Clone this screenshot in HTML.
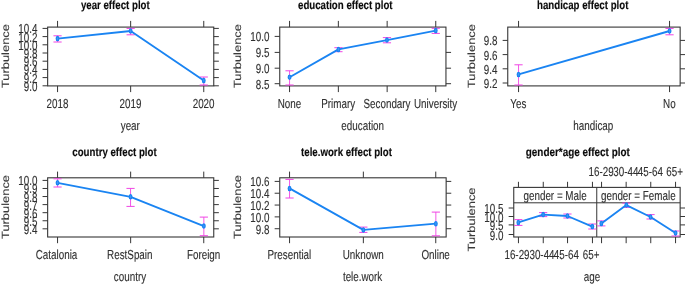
<!DOCTYPE html>
<html><head><meta charset="utf-8"><title>effect plots</title>
<style>
html,body{margin:0;padding:0;background:#fff;}
svg{display:block;filter:blur(0.35px);text-rendering:geometricPrecision;font-family:"Liberation Sans",sans-serif;}
</style></head><body>
<svg width="685" height="284" viewBox="0 0 685 284">
<rect width="685" height="284" fill="#fff"/>
<rect transform="translate(0.15,0.4)" x="47.50" y="26.70" width="166.10" height="58.80" fill="none" stroke="#363636" stroke-width="1.1"/>
<line x1="57.55" y1="20.90" x2="57.55" y2="27.10" stroke="#363636" stroke-width="1.0" />
<line x1="57.55" y1="85.90" x2="57.55" y2="92.10" stroke="#363636" stroke-width="1.0" />
<line x1="130.65" y1="20.90" x2="130.65" y2="27.10" stroke="#363636" stroke-width="1.0" />
<line x1="130.65" y1="85.90" x2="130.65" y2="92.10" stroke="#363636" stroke-width="1.0" />
<line x1="203.75" y1="20.90" x2="203.75" y2="27.10" stroke="#363636" stroke-width="1.0" />
<line x1="203.75" y1="85.90" x2="203.75" y2="92.10" stroke="#363636" stroke-width="1.0" />
<line x1="42.55" y1="28.40" x2="47.65" y2="28.40" stroke="#363636" stroke-width="1.0" />
<line x1="213.75" y1="28.40" x2="218.85" y2="28.40" stroke="#363636" stroke-width="1.0" />
<line x1="42.55" y1="36.60" x2="47.65" y2="36.60" stroke="#363636" stroke-width="1.0" />
<line x1="213.75" y1="36.60" x2="218.85" y2="36.60" stroke="#363636" stroke-width="1.0" />
<line x1="42.55" y1="44.80" x2="47.65" y2="44.80" stroke="#363636" stroke-width="1.0" />
<line x1="213.75" y1="44.80" x2="218.85" y2="44.80" stroke="#363636" stroke-width="1.0" />
<line x1="42.55" y1="53.00" x2="47.65" y2="53.00" stroke="#363636" stroke-width="1.0" />
<line x1="213.75" y1="53.00" x2="218.85" y2="53.00" stroke="#363636" stroke-width="1.0" />
<line x1="42.55" y1="61.20" x2="47.65" y2="61.20" stroke="#363636" stroke-width="1.0" />
<line x1="213.75" y1="61.20" x2="218.85" y2="61.20" stroke="#363636" stroke-width="1.0" />
<line x1="42.55" y1="69.40" x2="47.65" y2="69.40" stroke="#363636" stroke-width="1.0" />
<line x1="213.75" y1="69.40" x2="218.85" y2="69.40" stroke="#363636" stroke-width="1.0" />
<line x1="42.55" y1="77.60" x2="47.65" y2="77.60" stroke="#363636" stroke-width="1.0" />
<line x1="213.75" y1="77.60" x2="218.85" y2="77.60" stroke="#363636" stroke-width="1.0" />
<line x1="42.55" y1="85.80" x2="47.65" y2="85.80" stroke="#363636" stroke-width="1.0" />
<line x1="213.75" y1="85.80" x2="218.85" y2="85.80" stroke="#363636" stroke-width="1.0" />
<text transform="translate(57.40,108.40) scale(0.757,1)" text-anchor="middle" font-size="13.0" fill="#303030" stroke="#303030" stroke-width="0.12">2018</text>
<text transform="translate(130.50,108.40) scale(0.757,1)" text-anchor="middle" font-size="13.0" fill="#303030" stroke="#303030" stroke-width="0.12">2019</text>
<text transform="translate(203.60,108.40) scale(0.757,1)" text-anchor="middle" font-size="13.0" fill="#303030" stroke="#303030" stroke-width="0.12">2020</text>
<text transform="translate(37.40,33.40) scale(0.757,1)" text-anchor="end" font-size="13.0" fill="#303030" stroke="#303030" stroke-width="0.12">10.4</text>
<text transform="translate(37.40,41.60) scale(0.757,1)" text-anchor="end" font-size="13.0" fill="#303030" stroke="#303030" stroke-width="0.12">10.2</text>
<text transform="translate(37.40,49.80) scale(0.757,1)" text-anchor="end" font-size="13.0" fill="#303030" stroke="#303030" stroke-width="0.12">10.0</text>
<text transform="translate(37.40,58.00) scale(0.757,1)" text-anchor="end" font-size="13.0" fill="#303030" stroke="#303030" stroke-width="0.12">9.8</text>
<text transform="translate(37.40,66.20) scale(0.757,1)" text-anchor="end" font-size="13.0" fill="#303030" stroke="#303030" stroke-width="0.12">9.6</text>
<text transform="translate(37.40,74.40) scale(0.757,1)" text-anchor="end" font-size="13.0" fill="#303030" stroke="#303030" stroke-width="0.12">9.4</text>
<text transform="translate(37.40,82.60) scale(0.757,1)" text-anchor="end" font-size="13.0" fill="#303030" stroke="#303030" stroke-width="0.12">9.2</text>
<text transform="translate(37.40,90.80) scale(0.757,1)" text-anchor="end" font-size="13.0" fill="#303030" stroke="#303030" stroke-width="0.12">9.0</text>
<line x1="57.55" y1="35.80" x2="57.55" y2="42.00" stroke="#f044e4" stroke-width="0.9" />
<line x1="53.45" y1="35.80" x2="61.65" y2="35.80" stroke="#f044e4" stroke-width="1.0" />
<line x1="53.45" y1="42.00" x2="61.65" y2="42.00" stroke="#f044e4" stroke-width="1.0" />
<line x1="130.65" y1="28.40" x2="130.65" y2="34.80" stroke="#f044e4" stroke-width="0.9" />
<line x1="126.55" y1="28.40" x2="134.75" y2="28.40" stroke="#f044e4" stroke-width="1.0" />
<line x1="126.55" y1="34.80" x2="134.75" y2="34.80" stroke="#f044e4" stroke-width="1.0" />
<line x1="203.75" y1="77.00" x2="203.75" y2="85.00" stroke="#f044e4" stroke-width="0.9" />
<line x1="199.65" y1="77.00" x2="207.85" y2="77.00" stroke="#f044e4" stroke-width="1.0" />
<line x1="199.65" y1="85.00" x2="207.85" y2="85.00" stroke="#f044e4" stroke-width="1.0" />
<path transform="translate(0.15,0.4)" d="M57.40,38.20 L130.50,30.60 L203.60,80.00" fill="none" stroke="#1a84f2" stroke-width="1.85" stroke-linejoin="round"/>
<ellipse transform="translate(0.15,0.4)" cx="57.40" cy="38.20" rx="1.3" ry="2.1" fill="#3f97f5" stroke="#1a84f2" stroke-width="1.3"/>
<ellipse transform="translate(0.15,0.4)" cx="130.50" cy="30.60" rx="1.3" ry="2.1" fill="#3f97f5" stroke="#1a84f2" stroke-width="1.3"/>
<ellipse transform="translate(0.15,0.4)" cx="203.60" cy="80.00" rx="1.3" ry="2.1" fill="#3f97f5" stroke="#1a84f2" stroke-width="1.3"/>
<text transform="translate(115.30,9.40) scale(0.806,1)" text-anchor="middle" font-weight="bold" font-size="12" fill="#0c0c0c" stroke="#0c0c0c" stroke-width="0.15">year effect plot</text>
<text transform="translate(130.30,130.30) scale(0.757,1)" text-anchor="middle" font-size="13.0" fill="#303030" stroke="#303030" stroke-width="0.12">year</text>
<text transform="translate(8.60,56.10) scale(0.81,1) rotate(-90)" text-anchor="middle" font-size="12.9" fill="#3a3a3a" stroke="#3a3a3a" stroke-width="0.12">Turbulence</text>
<rect transform="translate(0.15,0.4)" x="279.60" y="26.70" width="166.20" height="58.80" fill="none" stroke="#363636" stroke-width="1.1"/>
<line x1="289.55" y1="20.90" x2="289.55" y2="27.10" stroke="#363636" stroke-width="1.0" />
<line x1="289.55" y1="85.90" x2="289.55" y2="92.10" stroke="#363636" stroke-width="1.0" />
<line x1="338.35" y1="20.90" x2="338.35" y2="27.10" stroke="#363636" stroke-width="1.0" />
<line x1="338.35" y1="85.90" x2="338.35" y2="92.10" stroke="#363636" stroke-width="1.0" />
<line x1="387.15" y1="20.90" x2="387.15" y2="27.10" stroke="#363636" stroke-width="1.0" />
<line x1="387.15" y1="85.90" x2="387.15" y2="92.10" stroke="#363636" stroke-width="1.0" />
<line x1="435.75" y1="20.90" x2="435.75" y2="27.10" stroke="#363636" stroke-width="1.0" />
<line x1="435.75" y1="85.90" x2="435.75" y2="92.10" stroke="#363636" stroke-width="1.0" />
<line x1="274.65" y1="36.40" x2="279.75" y2="36.40" stroke="#363636" stroke-width="1.0" />
<line x1="445.95" y1="36.40" x2="451.05" y2="36.40" stroke="#363636" stroke-width="1.0" />
<line x1="274.65" y1="52.40" x2="279.75" y2="52.40" stroke="#363636" stroke-width="1.0" />
<line x1="445.95" y1="52.40" x2="451.05" y2="52.40" stroke="#363636" stroke-width="1.0" />
<line x1="274.65" y1="68.20" x2="279.75" y2="68.20" stroke="#363636" stroke-width="1.0" />
<line x1="445.95" y1="68.20" x2="451.05" y2="68.20" stroke="#363636" stroke-width="1.0" />
<line x1="274.65" y1="83.70" x2="279.75" y2="83.70" stroke="#363636" stroke-width="1.0" />
<line x1="445.95" y1="83.70" x2="451.05" y2="83.70" stroke="#363636" stroke-width="1.0" />
<text transform="translate(289.40,108.40) scale(0.757,1)" text-anchor="middle" font-size="13.0" fill="#303030" stroke="#303030" stroke-width="0.12">None</text>
<text transform="translate(338.20,108.40) scale(0.757,1)" text-anchor="middle" font-size="13.0" fill="#303030" stroke="#303030" stroke-width="0.12">Primary</text>
<text transform="translate(387.00,108.40) scale(0.757,1)" text-anchor="middle" font-size="13.0" fill="#303030" stroke="#303030" stroke-width="0.12">Secondary</text>
<text transform="translate(435.60,108.40) scale(0.757,1)" text-anchor="middle" font-size="13.0" fill="#303030" stroke="#303030" stroke-width="0.12">University</text>
<text transform="translate(269.50,41.40) scale(0.757,1)" text-anchor="end" font-size="13.0" fill="#303030" stroke="#303030" stroke-width="0.12">10.0</text>
<text transform="translate(269.50,57.40) scale(0.757,1)" text-anchor="end" font-size="13.0" fill="#303030" stroke="#303030" stroke-width="0.12">9.5</text>
<text transform="translate(269.50,73.20) scale(0.757,1)" text-anchor="end" font-size="13.0" fill="#303030" stroke="#303030" stroke-width="0.12">9.0</text>
<text transform="translate(269.50,88.70) scale(0.757,1)" text-anchor="end" font-size="13.0" fill="#303030" stroke="#303030" stroke-width="0.12">8.5</text>
<line x1="289.55" y1="70.80" x2="289.55" y2="85.00" stroke="#f044e4" stroke-width="0.9" />
<line x1="285.45" y1="70.80" x2="293.65" y2="70.80" stroke="#f044e4" stroke-width="1.0" />
<line x1="285.45" y1="85.00" x2="293.65" y2="85.00" stroke="#f044e4" stroke-width="1.0" />
<line x1="338.45" y1="47.70" x2="338.45" y2="51.70" stroke="#f044e4" stroke-width="0.9" />
<line x1="334.35" y1="47.70" x2="342.55" y2="47.70" stroke="#f044e4" stroke-width="1.0" />
<line x1="334.35" y1="51.70" x2="342.55" y2="51.70" stroke="#f044e4" stroke-width="1.0" />
<line x1="386.95" y1="37.60" x2="386.95" y2="42.80" stroke="#f044e4" stroke-width="0.9" />
<line x1="382.85" y1="37.60" x2="391.05" y2="37.60" stroke="#f044e4" stroke-width="1.0" />
<line x1="382.85" y1="42.80" x2="391.05" y2="42.80" stroke="#f044e4" stroke-width="1.0" />
<line x1="435.75" y1="28.30" x2="435.75" y2="33.40" stroke="#f044e4" stroke-width="0.9" />
<line x1="431.65" y1="28.30" x2="439.85" y2="28.30" stroke="#f044e4" stroke-width="1.0" />
<line x1="431.65" y1="33.40" x2="439.85" y2="33.40" stroke="#f044e4" stroke-width="1.0" />
<path transform="translate(0.15,0.4)" d="M289.40,76.80 L338.30,49.00 L386.80,39.70 L435.60,30.20" fill="none" stroke="#1a84f2" stroke-width="1.85" stroke-linejoin="round"/>
<ellipse transform="translate(0.15,0.4)" cx="289.40" cy="76.80" rx="1.3" ry="2.1" fill="#3f97f5" stroke="#1a84f2" stroke-width="1.3"/>
<ellipse transform="translate(0.15,0.4)" cx="338.30" cy="49.00" rx="1.3" ry="2.1" fill="#3f97f5" stroke="#1a84f2" stroke-width="1.3"/>
<ellipse transform="translate(0.15,0.4)" cx="386.80" cy="39.70" rx="1.3" ry="2.1" fill="#3f97f5" stroke="#1a84f2" stroke-width="1.3"/>
<ellipse transform="translate(0.15,0.4)" cx="435.60" cy="30.20" rx="1.3" ry="2.1" fill="#3f97f5" stroke="#1a84f2" stroke-width="1.3"/>
<text transform="translate(345.30,9.40) scale(0.806,1)" text-anchor="middle" font-weight="bold" font-size="12" fill="#0c0c0c" stroke="#0c0c0c" stroke-width="0.15">education effect plot</text>
<text transform="translate(362.70,130.30) scale(0.757,1)" text-anchor="middle" font-size="13.0" fill="#303030" stroke="#303030" stroke-width="0.12">education</text>
<text transform="translate(241.00,56.10) scale(0.81,1) rotate(-90)" text-anchor="middle" font-size="12.9" fill="#3a3a3a" stroke="#3a3a3a" stroke-width="0.12">Turbulence</text>
<rect transform="translate(0.15,0.4)" x="507.60" y="26.70" width="172.40" height="58.80" fill="none" stroke="#363636" stroke-width="1.1"/>
<line x1="518.55" y1="20.90" x2="518.55" y2="27.10" stroke="#363636" stroke-width="1.0" />
<line x1="518.55" y1="85.90" x2="518.55" y2="92.10" stroke="#363636" stroke-width="1.0" />
<line x1="669.55" y1="20.90" x2="669.55" y2="27.10" stroke="#363636" stroke-width="1.0" />
<line x1="669.55" y1="85.90" x2="669.55" y2="92.10" stroke="#363636" stroke-width="1.0" />
<line x1="502.65" y1="40.40" x2="507.75" y2="40.40" stroke="#363636" stroke-width="1.0" />
<line x1="680.15" y1="40.40" x2="685.25" y2="40.40" stroke="#363636" stroke-width="1.0" />
<line x1="502.65" y1="54.60" x2="507.75" y2="54.60" stroke="#363636" stroke-width="1.0" />
<line x1="680.15" y1="54.60" x2="685.25" y2="54.60" stroke="#363636" stroke-width="1.0" />
<line x1="502.65" y1="68.80" x2="507.75" y2="68.80" stroke="#363636" stroke-width="1.0" />
<line x1="680.15" y1="68.80" x2="685.25" y2="68.80" stroke="#363636" stroke-width="1.0" />
<line x1="502.65" y1="83.00" x2="507.75" y2="83.00" stroke="#363636" stroke-width="1.0" />
<line x1="680.15" y1="83.00" x2="685.25" y2="83.00" stroke="#363636" stroke-width="1.0" />
<text transform="translate(518.40,108.40) scale(0.757,1)" text-anchor="middle" font-size="13.0" fill="#303030" stroke="#303030" stroke-width="0.12">Yes</text>
<text transform="translate(669.40,108.40) scale(0.757,1)" text-anchor="middle" font-size="13.0" fill="#303030" stroke="#303030" stroke-width="0.12">No</text>
<text transform="translate(497.50,45.40) scale(0.757,1)" text-anchor="end" font-size="13.0" fill="#303030" stroke="#303030" stroke-width="0.12">9.8</text>
<text transform="translate(497.50,59.60) scale(0.757,1)" text-anchor="end" font-size="13.0" fill="#303030" stroke="#303030" stroke-width="0.12">9.6</text>
<text transform="translate(497.50,73.80) scale(0.757,1)" text-anchor="end" font-size="13.0" fill="#303030" stroke="#303030" stroke-width="0.12">9.4</text>
<text transform="translate(497.50,88.00) scale(0.757,1)" text-anchor="end" font-size="13.0" fill="#303030" stroke="#303030" stroke-width="0.12">9.2</text>
<line x1="518.55" y1="64.80" x2="518.55" y2="85.00" stroke="#f044e4" stroke-width="0.9" />
<line x1="514.45" y1="64.80" x2="522.65" y2="64.80" stroke="#f044e4" stroke-width="1.0" />
<line x1="514.45" y1="85.00" x2="522.65" y2="85.00" stroke="#f044e4" stroke-width="1.0" />
<line x1="669.55" y1="28.40" x2="669.55" y2="34.80" stroke="#f044e4" stroke-width="0.9" />
<line x1="665.45" y1="28.40" x2="673.65" y2="28.40" stroke="#f044e4" stroke-width="1.0" />
<line x1="665.45" y1="34.80" x2="673.65" y2="34.80" stroke="#f044e4" stroke-width="1.0" />
<path transform="translate(0.15,0.4)" d="M518.40,74.00 L669.40,30.60" fill="none" stroke="#1a84f2" stroke-width="1.85" stroke-linejoin="round"/>
<ellipse transform="translate(0.15,0.4)" cx="518.40" cy="74.00" rx="1.3" ry="2.1" fill="#3f97f5" stroke="#1a84f2" stroke-width="1.3"/>
<ellipse transform="translate(0.15,0.4)" cx="669.40" cy="30.60" rx="1.3" ry="2.1" fill="#3f97f5" stroke="#1a84f2" stroke-width="1.3"/>
<text transform="translate(582.70,9.00) scale(0.806,1)" text-anchor="middle" font-weight="bold" font-size="12" fill="#0c0c0c" stroke="#0c0c0c" stroke-width="0.15">handicap effect plot</text>
<text transform="translate(593.30,130.30) scale(0.757,1)" text-anchor="middle" font-size="13.0" fill="#303030" stroke="#303030" stroke-width="0.12">handicap</text>
<text transform="translate(475.30,56.10) scale(0.81,1) rotate(-90)" text-anchor="middle" font-size="12.9" fill="#3a3a3a" stroke="#3a3a3a" stroke-width="0.12">Turbulence</text>
<rect transform="translate(0.15,0.4)" x="47.50" y="177.40" width="166.10" height="59.20" fill="none" stroke="#363636" stroke-width="1.1"/>
<line x1="57.55" y1="171.60" x2="57.55" y2="177.80" stroke="#363636" stroke-width="1.0" />
<line x1="57.55" y1="237.00" x2="57.55" y2="243.20" stroke="#363636" stroke-width="1.0" />
<line x1="130.65" y1="171.60" x2="130.65" y2="177.80" stroke="#363636" stroke-width="1.0" />
<line x1="130.65" y1="237.00" x2="130.65" y2="243.20" stroke="#363636" stroke-width="1.0" />
<line x1="203.75" y1="171.60" x2="203.75" y2="177.80" stroke="#363636" stroke-width="1.0" />
<line x1="203.75" y1="237.00" x2="203.75" y2="243.20" stroke="#363636" stroke-width="1.0" />
<line x1="42.55" y1="180.40" x2="47.65" y2="180.40" stroke="#363636" stroke-width="1.0" />
<line x1="213.75" y1="180.40" x2="218.85" y2="180.40" stroke="#363636" stroke-width="1.0" />
<line x1="42.55" y1="188.47" x2="47.65" y2="188.47" stroke="#363636" stroke-width="1.0" />
<line x1="213.75" y1="188.47" x2="218.85" y2="188.47" stroke="#363636" stroke-width="1.0" />
<line x1="42.55" y1="196.54" x2="47.65" y2="196.54" stroke="#363636" stroke-width="1.0" />
<line x1="213.75" y1="196.54" x2="218.85" y2="196.54" stroke="#363636" stroke-width="1.0" />
<line x1="42.55" y1="204.61" x2="47.65" y2="204.61" stroke="#363636" stroke-width="1.0" />
<line x1="213.75" y1="204.61" x2="218.85" y2="204.61" stroke="#363636" stroke-width="1.0" />
<line x1="42.55" y1="212.68" x2="47.65" y2="212.68" stroke="#363636" stroke-width="1.0" />
<line x1="213.75" y1="212.68" x2="218.85" y2="212.68" stroke="#363636" stroke-width="1.0" />
<line x1="42.55" y1="220.75" x2="47.65" y2="220.75" stroke="#363636" stroke-width="1.0" />
<line x1="213.75" y1="220.75" x2="218.85" y2="220.75" stroke="#363636" stroke-width="1.0" />
<line x1="42.55" y1="228.82" x2="47.65" y2="228.82" stroke="#363636" stroke-width="1.0" />
<line x1="213.75" y1="228.82" x2="218.85" y2="228.82" stroke="#363636" stroke-width="1.0" />
<text transform="translate(56.50,258.50) scale(0.757,1)" text-anchor="middle" font-size="13.0" fill="#303030" stroke="#303030" stroke-width="0.12">Catalonia</text>
<text transform="translate(129.80,258.50) scale(0.757,1)" text-anchor="middle" font-size="13.0" fill="#303030" stroke="#303030" stroke-width="0.12">RestSpain</text>
<text transform="translate(203.60,258.50) scale(0.757,1)" text-anchor="middle" font-size="13.0" fill="#303030" stroke="#303030" stroke-width="0.12">Foreign</text>
<text transform="translate(37.40,185.40) scale(0.757,1)" text-anchor="end" font-size="13.0" fill="#303030" stroke="#303030" stroke-width="0.12">10.0</text>
<text transform="translate(37.40,193.47) scale(0.757,1)" text-anchor="end" font-size="13.0" fill="#303030" stroke="#303030" stroke-width="0.12">9.9</text>
<text transform="translate(37.40,201.54) scale(0.757,1)" text-anchor="end" font-size="13.0" fill="#303030" stroke="#303030" stroke-width="0.12">9.8</text>
<text transform="translate(37.40,209.61) scale(0.757,1)" text-anchor="end" font-size="13.0" fill="#303030" stroke="#303030" stroke-width="0.12">9.7</text>
<text transform="translate(37.40,217.68) scale(0.757,1)" text-anchor="end" font-size="13.0" fill="#303030" stroke="#303030" stroke-width="0.12">9.6</text>
<text transform="translate(37.40,225.75) scale(0.757,1)" text-anchor="end" font-size="13.0" fill="#303030" stroke="#303030" stroke-width="0.12">9.5</text>
<text transform="translate(37.40,233.82) scale(0.757,1)" text-anchor="end" font-size="13.0" fill="#303030" stroke="#303030" stroke-width="0.12">9.4</text>
<line x1="57.55" y1="178.80" x2="57.55" y2="187.00" stroke="#f044e4" stroke-width="0.9" />
<line x1="53.45" y1="178.80" x2="61.65" y2="178.80" stroke="#f044e4" stroke-width="1.0" />
<line x1="53.45" y1="187.00" x2="61.65" y2="187.00" stroke="#f044e4" stroke-width="1.0" />
<line x1="130.55" y1="188.40" x2="130.55" y2="206.40" stroke="#f044e4" stroke-width="0.9" />
<line x1="126.45" y1="188.40" x2="134.65" y2="188.40" stroke="#f044e4" stroke-width="1.0" />
<line x1="126.45" y1="206.40" x2="134.65" y2="206.40" stroke="#f044e4" stroke-width="1.0" />
<line x1="203.85" y1="217.10" x2="203.85" y2="235.70" stroke="#f044e4" stroke-width="0.9" />
<line x1="199.75" y1="217.10" x2="207.95" y2="217.10" stroke="#f044e4" stroke-width="1.0" />
<line x1="199.75" y1="235.70" x2="207.95" y2="235.70" stroke="#f044e4" stroke-width="1.0" />
<path transform="translate(0.15,0.4)" d="M57.40,182.40 L130.40,196.40 L203.70,225.70" fill="none" stroke="#1a84f2" stroke-width="1.85" stroke-linejoin="round"/>
<ellipse transform="translate(0.15,0.4)" cx="57.40" cy="182.40" rx="1.3" ry="2.1" fill="#3f97f5" stroke="#1a84f2" stroke-width="1.3"/>
<ellipse transform="translate(0.15,0.4)" cx="130.40" cy="196.40" rx="1.3" ry="2.1" fill="#3f97f5" stroke="#1a84f2" stroke-width="1.3"/>
<ellipse transform="translate(0.15,0.4)" cx="203.70" cy="225.70" rx="1.3" ry="2.1" fill="#3f97f5" stroke="#1a84f2" stroke-width="1.3"/>
<text transform="translate(114.50,156.40) scale(0.806,1)" text-anchor="middle" font-weight="bold" font-size="12" fill="#0c0c0c" stroke="#0c0c0c" stroke-width="0.15">country effect plot</text>
<text transform="translate(130.00,280.50) scale(0.757,1)" text-anchor="middle" font-size="13.0" fill="#303030" stroke="#303030" stroke-width="0.12">country</text>
<text transform="translate(8.60,207.00) scale(0.81,1) rotate(-90)" text-anchor="middle" font-size="12.9" fill="#3a3a3a" stroke="#3a3a3a" stroke-width="0.12">Turbulence</text>
<rect transform="translate(0.15,0.4)" x="279.60" y="177.40" width="166.40" height="59.20" fill="none" stroke="#363636" stroke-width="1.1"/>
<line x1="289.55" y1="171.60" x2="289.55" y2="177.80" stroke="#363636" stroke-width="1.0" />
<line x1="289.55" y1="237.00" x2="289.55" y2="243.20" stroke="#363636" stroke-width="1.0" />
<line x1="363.35" y1="171.60" x2="363.35" y2="177.80" stroke="#363636" stroke-width="1.0" />
<line x1="363.35" y1="237.00" x2="363.35" y2="243.20" stroke="#363636" stroke-width="1.0" />
<line x1="435.75" y1="171.60" x2="435.75" y2="177.80" stroke="#363636" stroke-width="1.0" />
<line x1="435.75" y1="237.00" x2="435.75" y2="243.20" stroke="#363636" stroke-width="1.0" />
<line x1="274.65" y1="181.40" x2="279.75" y2="181.40" stroke="#363636" stroke-width="1.0" />
<line x1="446.15" y1="181.40" x2="451.25" y2="181.40" stroke="#363636" stroke-width="1.0" />
<line x1="274.65" y1="193.23" x2="279.75" y2="193.23" stroke="#363636" stroke-width="1.0" />
<line x1="446.15" y1="193.23" x2="451.25" y2="193.23" stroke="#363636" stroke-width="1.0" />
<line x1="274.65" y1="205.06" x2="279.75" y2="205.06" stroke="#363636" stroke-width="1.0" />
<line x1="446.15" y1="205.06" x2="451.25" y2="205.06" stroke="#363636" stroke-width="1.0" />
<line x1="274.65" y1="216.89" x2="279.75" y2="216.89" stroke="#363636" stroke-width="1.0" />
<line x1="446.15" y1="216.89" x2="451.25" y2="216.89" stroke="#363636" stroke-width="1.0" />
<line x1="274.65" y1="228.72" x2="279.75" y2="228.72" stroke="#363636" stroke-width="1.0" />
<line x1="446.15" y1="228.72" x2="451.25" y2="228.72" stroke="#363636" stroke-width="1.0" />
<text transform="translate(289.40,258.50) scale(0.757,1)" text-anchor="middle" font-size="13.0" fill="#303030" stroke="#303030" stroke-width="0.12">Presential</text>
<text transform="translate(363.20,258.50) scale(0.757,1)" text-anchor="middle" font-size="13.0" fill="#303030" stroke="#303030" stroke-width="0.12">Unknown</text>
<text transform="translate(435.60,258.50) scale(0.757,1)" text-anchor="middle" font-size="13.0" fill="#303030" stroke="#303030" stroke-width="0.12">Online</text>
<text transform="translate(269.50,186.40) scale(0.757,1)" text-anchor="end" font-size="13.0" fill="#303030" stroke="#303030" stroke-width="0.12">10.6</text>
<text transform="translate(269.50,198.23) scale(0.757,1)" text-anchor="end" font-size="13.0" fill="#303030" stroke="#303030" stroke-width="0.12">10.4</text>
<text transform="translate(269.50,210.06) scale(0.757,1)" text-anchor="end" font-size="13.0" fill="#303030" stroke="#303030" stroke-width="0.12">10.2</text>
<text transform="translate(269.50,221.89) scale(0.757,1)" text-anchor="end" font-size="13.0" fill="#303030" stroke="#303030" stroke-width="0.12">10.0</text>
<text transform="translate(269.50,233.72) scale(0.757,1)" text-anchor="end" font-size="13.0" fill="#303030" stroke="#303030" stroke-width="0.12">9.8</text>
<line x1="289.55" y1="179.40" x2="289.55" y2="198.00" stroke="#f044e4" stroke-width="0.9" />
<line x1="285.45" y1="179.40" x2="293.65" y2="179.40" stroke="#f044e4" stroke-width="1.0" />
<line x1="285.45" y1="198.00" x2="293.65" y2="198.00" stroke="#f044e4" stroke-width="1.0" />
<line x1="363.35" y1="227.10" x2="363.35" y2="232.40" stroke="#f044e4" stroke-width="0.9" />
<line x1="359.25" y1="227.10" x2="367.45" y2="227.10" stroke="#f044e4" stroke-width="1.0" />
<line x1="359.25" y1="232.40" x2="367.45" y2="232.40" stroke="#f044e4" stroke-width="1.0" />
<line x1="435.85" y1="212.10" x2="435.85" y2="235.80" stroke="#f044e4" stroke-width="0.9" />
<line x1="431.75" y1="212.10" x2="439.95" y2="212.10" stroke="#f044e4" stroke-width="1.0" />
<line x1="431.75" y1="235.80" x2="439.95" y2="235.80" stroke="#f044e4" stroke-width="1.0" />
<path transform="translate(0.15,0.4)" d="M289.40,188.00 L363.20,229.50 L435.70,223.30" fill="none" stroke="#1a84f2" stroke-width="1.85" stroke-linejoin="round"/>
<ellipse transform="translate(0.15,0.4)" cx="289.40" cy="188.00" rx="1.3" ry="2.1" fill="#3f97f5" stroke="#1a84f2" stroke-width="1.3"/>
<ellipse transform="translate(0.15,0.4)" cx="363.20" cy="229.50" rx="1.3" ry="2.1" fill="#3f97f5" stroke="#1a84f2" stroke-width="1.3"/>
<ellipse transform="translate(0.15,0.4)" cx="435.70" cy="223.30" rx="1.3" ry="2.1" fill="#3f97f5" stroke="#1a84f2" stroke-width="1.3"/>
<text transform="translate(346.50,156.40) scale(0.806,1)" text-anchor="middle" font-weight="bold" font-size="12" fill="#0c0c0c" stroke="#0c0c0c" stroke-width="0.15">tele.work effect plot</text>
<text transform="translate(362.60,280.50) scale(0.757,1)" text-anchor="middle" font-size="13.0" fill="#303030" stroke="#303030" stroke-width="0.12">tele.work</text>
<text transform="translate(241.00,207.00) scale(0.81,1) rotate(-90)" text-anchor="middle" font-size="12.9" fill="#3a3a3a" stroke="#3a3a3a" stroke-width="0.12">Turbulence</text>
<rect transform="translate(0.15,0.4)" x="513.6" y="187" width="166.40" height="49.60" fill="none" stroke="#363636" stroke-width="1.1"/>
<line x1="513.75" y1="202.80" x2="680.15" y2="202.80" stroke="#363636" stroke-width="1.0" />
<line x1="596.75" y1="187.40" x2="596.75" y2="237.00" stroke="#363636" stroke-width="1.0" />
<line x1="518.45" y1="181.80" x2="518.45" y2="187.40" stroke="#363636" stroke-width="1.0" />
<line x1="518.45" y1="237.00" x2="518.45" y2="243.20" stroke="#363636" stroke-width="1.0" />
<line x1="543.25" y1="181.80" x2="543.25" y2="187.40" stroke="#363636" stroke-width="1.0" />
<line x1="543.25" y1="237.00" x2="543.25" y2="243.20" stroke="#363636" stroke-width="1.0" />
<line x1="567.55" y1="181.80" x2="567.55" y2="187.40" stroke="#363636" stroke-width="1.0" />
<line x1="567.55" y1="237.00" x2="567.55" y2="243.20" stroke="#363636" stroke-width="1.0" />
<line x1="592.45" y1="181.80" x2="592.45" y2="187.40" stroke="#363636" stroke-width="1.0" />
<line x1="592.45" y1="237.00" x2="592.45" y2="243.20" stroke="#363636" stroke-width="1.0" />
<line x1="601.55" y1="181.80" x2="601.55" y2="187.40" stroke="#363636" stroke-width="1.0" />
<line x1="601.55" y1="237.00" x2="601.55" y2="243.20" stroke="#363636" stroke-width="1.0" />
<line x1="626.15" y1="181.80" x2="626.15" y2="187.40" stroke="#363636" stroke-width="1.0" />
<line x1="626.15" y1="237.00" x2="626.15" y2="243.20" stroke="#363636" stroke-width="1.0" />
<line x1="650.75" y1="181.80" x2="650.75" y2="187.40" stroke="#363636" stroke-width="1.0" />
<line x1="650.75" y1="237.00" x2="650.75" y2="243.20" stroke="#363636" stroke-width="1.0" />
<line x1="675.55" y1="181.80" x2="675.55" y2="187.40" stroke="#363636" stroke-width="1.0" />
<line x1="675.55" y1="237.00" x2="675.55" y2="243.20" stroke="#363636" stroke-width="1.0" />
<line x1="508.65" y1="208.00" x2="513.75" y2="208.00" stroke="#363636" stroke-width="1.0" />
<line x1="680.15" y1="208.00" x2="685.25" y2="208.00" stroke="#363636" stroke-width="1.0" />
<text transform="translate(503.50,213.00) scale(0.757,1)" text-anchor="end" font-size="13.0" fill="#303030" stroke="#303030" stroke-width="0.12">10.5</text>
<line x1="508.65" y1="216.50" x2="513.75" y2="216.50" stroke="#363636" stroke-width="1.0" />
<line x1="680.15" y1="216.50" x2="685.25" y2="216.50" stroke="#363636" stroke-width="1.0" />
<text transform="translate(503.50,221.50) scale(0.757,1)" text-anchor="end" font-size="13.0" fill="#303030" stroke="#303030" stroke-width="0.12">10.0</text>
<line x1="508.65" y1="224.90" x2="513.75" y2="224.90" stroke="#363636" stroke-width="1.0" />
<line x1="680.15" y1="224.90" x2="685.25" y2="224.90" stroke="#363636" stroke-width="1.0" />
<text transform="translate(503.50,229.90) scale(0.757,1)" text-anchor="end" font-size="13.0" fill="#303030" stroke="#303030" stroke-width="0.12">9.5</text>
<line x1="508.65" y1="234.50" x2="513.75" y2="234.50" stroke="#363636" stroke-width="1.0" />
<line x1="680.15" y1="234.50" x2="685.25" y2="234.50" stroke="#363636" stroke-width="1.0" />
<text transform="translate(503.50,239.50) scale(0.757,1)" text-anchor="end" font-size="13.0" fill="#303030" stroke="#303030" stroke-width="0.12">9.0</text>
<text transform="translate(517.00,258.70) scale(0.757,1)" text-anchor="middle" font-size="13.0" fill="#303030" stroke="#303030" stroke-width="0.12">16-29</text>
<text transform="translate(542.00,258.70) scale(0.757,1)" text-anchor="middle" font-size="13.0" fill="#303030" stroke="#303030" stroke-width="0.12">30-44</text>
<text transform="translate(566.30,258.70) scale(0.757,1)" text-anchor="middle" font-size="13.0" fill="#303030" stroke="#303030" stroke-width="0.12">45-64</text>
<text transform="translate(591.20,258.70) scale(0.757,1)" text-anchor="middle" font-size="13.0" fill="#303030" stroke="#303030" stroke-width="0.12">65+</text>
<text transform="translate(601.20,175.70) scale(0.757,1)" text-anchor="middle" font-size="13.0" fill="#303030" stroke="#303030" stroke-width="0.12">16-29</text>
<text transform="translate(625.80,175.70) scale(0.757,1)" text-anchor="middle" font-size="13.0" fill="#303030" stroke="#303030" stroke-width="0.12">30-44</text>
<text transform="translate(650.40,175.70) scale(0.757,1)" text-anchor="middle" font-size="13.0" fill="#303030" stroke="#303030" stroke-width="0.12">45-64</text>
<text transform="translate(674.70,175.70) scale(0.757,1)" text-anchor="middle" font-size="13.0" fill="#303030" stroke="#303030" stroke-width="0.12">65+</text>
<text transform="translate(555.10,200.00) scale(0.757,1)" text-anchor="middle" font-size="13.0" fill="#303030" stroke="#303030" stroke-width="0.12">gender = Male</text>
<text transform="translate(638.30,200.00) scale(0.757,1)" text-anchor="middle" font-size="13.0" fill="#303030" stroke="#303030" stroke-width="0.12">gender = Female</text>
<line x1="518.35" y1="219.60" x2="518.35" y2="225.40" stroke="#f044e4" stroke-width="0.9" />
<line x1="514.25" y1="219.60" x2="522.45" y2="219.60" stroke="#f044e4" stroke-width="1.0" />
<line x1="514.25" y1="225.40" x2="522.45" y2="225.40" stroke="#f044e4" stroke-width="1.0" />
<line x1="543.15" y1="212.60" x2="543.15" y2="216.60" stroke="#f044e4" stroke-width="0.9" />
<line x1="539.05" y1="212.60" x2="547.25" y2="212.60" stroke="#f044e4" stroke-width="1.0" />
<line x1="539.05" y1="216.60" x2="547.25" y2="216.60" stroke="#f044e4" stroke-width="1.0" />
<line x1="567.45" y1="214.00" x2="567.45" y2="218.00" stroke="#f044e4" stroke-width="0.9" />
<line x1="563.35" y1="214.00" x2="571.55" y2="214.00" stroke="#f044e4" stroke-width="1.0" />
<line x1="563.35" y1="218.00" x2="571.55" y2="218.00" stroke="#f044e4" stroke-width="1.0" />
<line x1="592.35" y1="224.00" x2="592.35" y2="229.00" stroke="#f044e4" stroke-width="0.9" />
<line x1="588.25" y1="224.00" x2="596.45" y2="224.00" stroke="#f044e4" stroke-width="1.0" />
<line x1="588.25" y1="229.00" x2="596.45" y2="229.00" stroke="#f044e4" stroke-width="1.0" />
<path transform="translate(0.15,0.4)" d="M518.20,222.00 L543.00,214.20 L567.30,215.60 L592.20,226.20" fill="none" stroke="#1a84f2" stroke-width="1.85" stroke-linejoin="round"/>
<ellipse transform="translate(0.15,0.4)" cx="518.20" cy="222.00" rx="1.3" ry="2.1" fill="#3f97f5" stroke="#1a84f2" stroke-width="1.3"/>
<ellipse transform="translate(0.15,0.4)" cx="543.00" cy="214.20" rx="1.3" ry="2.1" fill="#3f97f5" stroke="#1a84f2" stroke-width="1.3"/>
<ellipse transform="translate(0.15,0.4)" cx="567.30" cy="215.60" rx="1.3" ry="2.1" fill="#3f97f5" stroke="#1a84f2" stroke-width="1.3"/>
<ellipse transform="translate(0.15,0.4)" cx="592.20" cy="226.20" rx="1.3" ry="2.1" fill="#3f97f5" stroke="#1a84f2" stroke-width="1.3"/>
<line x1="601.35" y1="220.90" x2="601.35" y2="225.90" stroke="#f044e4" stroke-width="0.9" />
<line x1="597.25" y1="220.90" x2="605.45" y2="220.90" stroke="#f044e4" stroke-width="1.0" />
<line x1="597.25" y1="225.90" x2="605.45" y2="225.90" stroke="#f044e4" stroke-width="1.0" />
<line x1="626.35" y1="203.10" x2="626.35" y2="207.40" stroke="#f044e4" stroke-width="0.9" />
<line x1="622.25" y1="203.10" x2="630.45" y2="203.10" stroke="#f044e4" stroke-width="1.0" />
<line x1="622.25" y1="207.40" x2="630.45" y2="207.40" stroke="#f044e4" stroke-width="1.0" />
<line x1="650.55" y1="214.60" x2="650.55" y2="219.00" stroke="#f044e4" stroke-width="0.9" />
<line x1="646.45" y1="214.60" x2="654.65" y2="214.60" stroke="#f044e4" stroke-width="1.0" />
<line x1="646.45" y1="219.00" x2="654.65" y2="219.00" stroke="#f044e4" stroke-width="1.0" />
<line x1="675.55" y1="231.00" x2="675.55" y2="236.00" stroke="#f044e4" stroke-width="0.9" />
<line x1="671.45" y1="231.00" x2="679.65" y2="231.00" stroke="#f044e4" stroke-width="1.0" />
<line x1="671.45" y1="236.00" x2="679.65" y2="236.00" stroke="#f044e4" stroke-width="1.0" />
<path transform="translate(0.15,0.4)" d="M601.20,223.00 L626.20,204.70 L650.40,216.60 L675.40,232.60" fill="none" stroke="#1a84f2" stroke-width="1.85" stroke-linejoin="round"/>
<ellipse transform="translate(0.15,0.4)" cx="601.20" cy="223.00" rx="1.3" ry="2.1" fill="#3f97f5" stroke="#1a84f2" stroke-width="1.3"/>
<ellipse transform="translate(0.15,0.4)" cx="626.20" cy="204.70" rx="1.3" ry="2.1" fill="#3f97f5" stroke="#1a84f2" stroke-width="1.3"/>
<ellipse transform="translate(0.15,0.4)" cx="650.40" cy="216.60" rx="1.3" ry="2.1" fill="#3f97f5" stroke="#1a84f2" stroke-width="1.3"/>
<ellipse transform="translate(0.15,0.4)" cx="675.40" cy="232.60" rx="1.3" ry="2.1" fill="#3f97f5" stroke="#1a84f2" stroke-width="1.3"/>
<text transform="translate(577.80,156.40) scale(0.825,1)" text-anchor="middle" font-weight="bold" font-size="12" fill="#0c0c0c" stroke="#0c0c0c" stroke-width="0.15">gender*age effect plot</text>
<text transform="translate(591.90,280.50) scale(0.757,1)" text-anchor="middle" font-size="13.0" fill="#303030" stroke="#303030" stroke-width="0.12">age</text>
<text transform="translate(475.30,219.50) scale(0.81,1) rotate(-90)" text-anchor="middle" font-size="12.9" fill="#3a3a3a" stroke="#3a3a3a" stroke-width="0.12">Turbulence</text>
</svg>
</body></html>
